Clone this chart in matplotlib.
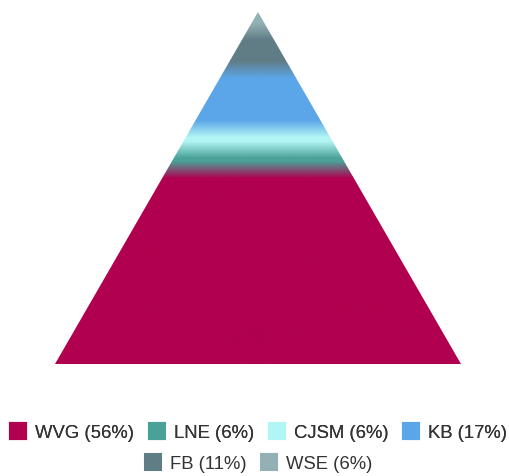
import matplotlib.pyplot as plt
import numpy as np
from matplotlib.patches import Polygon
from matplotlib.lines import Line2D

plt.rcParams['font.family'] = ['Liberation Sans', 'DejaVu Sans']

names = ['WVG', 'LNE', 'CJSM', 'KB', 'FB', 'WSE']
values = [56, 6, 6, 17, 11, 6]
colors = ['#b0004f', '#4aa197', '#b2f5f5', '#5ba6e8', '#607d86', '#93b1b5']

W, H = 509, 477
fig = plt.figure(figsize=(W / 100, H / 100), dpi=100)
ax = fig.add_axes([0, 0, 1, 1])
ax.set_xlim(0, W)
ax.set_ylim(H, 0)
ax.axis('off')

apex = (258, 13)
base_y, base_l, base_r = 365, 55, 461
height = base_y - apex[1]

# bottom-up stacking, segment heights proportional to value
frac = np.array(values, dtype=float) / sum(values)
edges = base_y - np.concatenate([[0], np.cumsum(frac)]) * height

rgb = np.array([plt.matplotlib.colors.to_rgb(c) for c in colors])
ys = np.arange(apex[1] - 20, base_y + 20)
col = np.zeros((len(ys), 3))
for i, y in enumerate(ys):
    idx = np.searchsorted(-edges[1:], -y)
    idx = min(max(idx, 0), len(values) - 1)
    col[i] = rgb[idx]
k = 17
kernel = np.ones(k) / k
sm = np.stack([np.convolve(np.pad(col[:, c], k, mode='edge'), kernel, mode='same')[k:-k]
               for c in range(3)], axis=1)
img = np.repeat(sm[:, None, :], 2, axis=1)

tri = Polygon([apex, (base_l, base_y), (base_r, base_y)], closed=True,
              facecolor='none', edgecolor='none')
ax.add_patch(tri)
im = ax.imshow(img, extent=(base_l, base_r, ys[-1] + 0.5, ys[0] - 0.5),
               aspect='auto', interpolation='bilinear')
im.set_clip_path(tri)
ax.set_xlim(0, W)
ax.set_ylim(H, 0)

labels = [f'{n} ({v}%)' for n, v in zip(names, values)]
handles = [Line2D([], [], marker='s', linestyle='none', markersize=11,
                  markerfacecolor=c, markeredgecolor=c, markeredgewidth=1.5)
           for c in colors]
kw = dict(frameon=False, fontsize=13.3, handlelength=0.9, handletextpad=0.45,
          columnspacing=0.8, borderaxespad=0, loc='center', labelcolor='#333333')
leg1 = fig.legend(handles[:4], labels[:4], ncol=4,
                  bbox_to_anchor=(0.508, 1 - 434 / H), **kw)
fig.add_artist(leg1)
fig.legend(handles[4:], labels[4:], ncol=2,
           bbox_to_anchor=(0.508, 1 - 465 / H), **kw)

fig.savefig('out.png', dpi=100)
